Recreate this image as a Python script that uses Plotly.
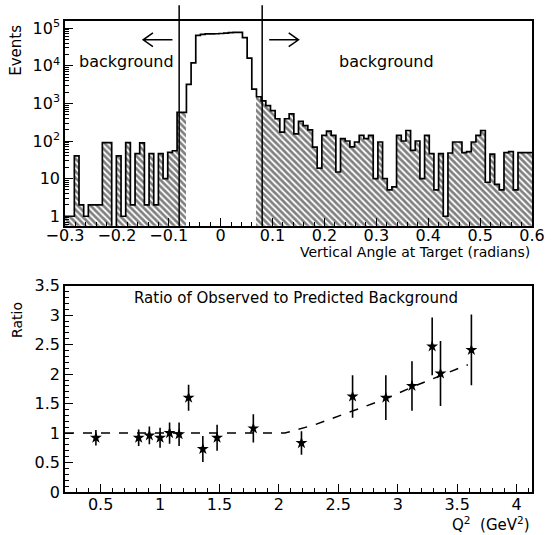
import plotly.graph_objects as go

# ---------------- data: top panel (histogram of vertical angle) ----------------
bin_lo = -0.30
bin_width = 0.009
counts = [
    1, 1, 40, 2, 1, 2, 2, 2, 90, 90,
    0, 40, 1, 90, 2, 46, 89, 2, 46, 2,
    46, 10, 50, 55, 580, 580, 3200, 12000, 64000, 68000,
    70000, 70000, 71000, 72000, 74000, 76000, 77000, 77000, 56000, 16000,
    2400, 1500, 1170, 870, 640, 390, 173, 390, 525, 155,
    335, 257, 198, 69, 19, 141, 183, 141, 15, 115,
    100, 70, 94, 141, 115, 141, 10, 94, 10, 5,
    6, 141, 100, 190, 56, 100, 10, 141, 46, 5,
    46, 1, 48, 94, 94, 49, 52, 94, 141, 190,
    8, 45, 7, 5, 49, 52, 5, 49, 49, 49,
]
bg_cut = 0.07          # |angle| beyond which a bin counts as background (hatched)
cut_lines = [-0.08, 0.08]
x_ticks_top = [-0.3, -0.2, -0.1, 0, 0.1, 0.2, 0.3, 0.4, 0.5, 0.6]
y_ticks_top = [1, 10, 100, 1000, 10000, 100000]
y_ticktext_top = ["1", "10", "10<sup>2</sup>", "10<sup>3</sup>", "10<sup>4</sup>", "10<sup>5</sup>"]

# ---------------- data: bottom panel (ratio vs Q^2) ----------------
q2 = [0.46, 0.82, 0.91, 1.00, 1.08, 1.16, 1.24, 1.36, 1.48, 1.785,
      2.19, 2.62, 2.90, 3.12, 3.29, 3.36, 3.62]
ratio = [0.92, 0.92, 0.96, 0.92, 1.00, 0.98, 1.60, 0.73, 0.92, 1.08,
         0.83, 1.62, 1.60, 1.80, 2.47, 2.01, 2.41]
ratio_err = [0.13, 0.14, 0.15, 0.17, 0.18, 0.20, 0.22, 0.22, 0.22, 0.24,
             0.20, 0.36, 0.38, 0.42, 0.49, 0.55, 0.60]
fit_q2 = [0.2, 2.05, 2.3, 2.62, 2.9, 3.12, 3.36, 3.59]
fit_ratio = [1.0, 1.0, 1.14, 1.37, 1.58, 1.78, 1.98, 2.16]

# ---------------- derived ----------------
n = len(counts)
edges = [bin_lo + i * bin_width for i in range(n + 1)]
centers = [bin_lo + (i + 0.5) * bin_width for i in range(n)]
bg_x = [c for c, v in zip(centers, counts) if abs(c) > bg_cut]
bg_y = [v if v > 0 else None for c, v in zip(centers, counts) if abs(c) > bg_cut]
step_y = [v if v > 0 else 0.2 for v in counts] + [counts[-1] if counts[-1] > 0 else 0.2]

W, H = 557, 535
ML, MR, MT, MB = 65, 14, 16, 43
PW, PH = W - ML - MR, H - MT - MB


def px(X):
    return (X - ML) / PW


def py(Y):
    return (H - MB - Y) / PH


FONT = "DejaVu Sans"
fig = go.Figure()

fig.add_trace(go.Bar(
    x=bg_x, y=bg_y, width=bin_width, xaxis="x", yaxis="y",
    marker=dict(color="white", line=dict(width=0),
                pattern=dict(shape="\\", fgcolor="black", bgcolor="white",
                             size=4.5, solidity=0.6)),
    hoverinfo="skip"))
fig.add_trace(go.Scatter(
    x=edges, y=step_y, mode="lines", line=dict(color="black", width=1.7, shape="hv"),
    xaxis="x", yaxis="y", hoverinfo="skip"))

fig.add_trace(go.Scatter(
    x=fit_q2, y=fit_ratio, mode="lines", line=dict(color="black", width=1.5, dash="dash"),
    xaxis="x2", yaxis="y2"))
fig.add_trace(go.Scatter(
    x=q2, y=ratio, mode="markers", xaxis="x2", yaxis="y2",
    marker=dict(symbol="star", size=9, color="black"),
    error_y=dict(type="data", array=ratio_err, thickness=1.6, width=0, color="black")))

top_dom = [py(223), 1]
bot_dom = [0, py(283.5)]

axis_common = dict(showline=True, mirror=True, linecolor="black", linewidth=1.5,
                   showgrid=False, zeroline=False, ticks="inside", ticklen=8,
                   tickwidth=1.3, tickcolor="black",
                   tickfont=dict(family=FONT, size=16, color="black"))

fig.update_layout(
    width=W, height=H, margin=dict(l=ML, r=MR, t=MT, b=MB),
    paper_bgcolor="white", plot_bgcolor="white", showlegend=False,
    bargap=0,
    xaxis=dict(axis_common, domain=[0, 1], anchor="y", range=[-0.3, 0.6],
               tickmode="array", tickvals=x_ticks_top, ticklabelstandoff=-6,
               minor=dict(ticks="inside", ticklen=4, dtick=0.02, tick0=0, tickcolor="black")),
    yaxis=dict(axis_common, domain=top_dom, anchor="x", type="log", range=[-0.255, 5.19],
               tickmode="array", tickvals=y_ticks_top, ticktext=y_ticktext_top,
               minor=dict(ticks="inside", ticklen=4, tickcolor="black",
                          tickvals=[k * 10 ** d for d in range(-1, 6) for k in range(2, 10)])),
    xaxis2=dict(axis_common, domain=[0, 1], anchor="y2", range=[0.2, 4.13],
                dtick=0.5, tick0=0.5, ticklabelstandoff=-3,
                minor=dict(ticks="inside", ticklen=4, dtick=0.1, tick0=0, tickcolor="black")),
    yaxis2=dict(axis_common, domain=bot_dom, anchor="x2", range=[0, 3.5],
                dtick=0.5, tick0=0,
                minor=dict(ticks="inside", ticklen=4, dtick=0.1, tick0=0, tickcolor="black")),
)

for xc in cut_lines:
    fig.add_shape(type="line", xref="x", yref="paper", x0=xc, x1=xc,
                  y0=top_dom[0], y1=py(0), line=dict(color="black", width=1.5))


def arrow(head, tail, yy):
    d = 10 if tail > head else -10
    return (f"M {px(tail)} {py(yy)} L {px(head)} {py(yy)} "
            f"M {px(head + d)} {py(yy - 7)} L {px(head)} {py(yy)} L {px(head + d)} {py(yy + 7)}")


for head, tail in [(145, 175), (304, 274)]:
    fig.add_shape(type="path", xref="paper", yref="paper", path=arrow(head, tail, 35),
                  line=dict(color="black", width=1.5))

ann = dict(xref="paper", yref="paper", showarrow=False, xanchor="center", yanchor="middle",
           font=dict(family=FONT, color="black"))
fig.add_annotation(ann, x=px(128), y=py(57), text="background", font_size=16)
fig.add_annotation(ann, x=px(394), y=py(57), text="background", font_size=16)
fig.add_annotation(ann, x=px(15), y=py(46), text="Events", textangle=-90, font_size=15)
fig.add_annotation(ann, x=px(16), y=py(318), text="Ratio", textangle=-90, font_size=14)
fig.add_annotation(ann, x=1.0, y=py(249), xanchor="right",
                   text="Vertical Angle at Target (radians)", font_size=14)
fig.add_annotation(ann, x=1.0, y=py(524), xanchor="right",
                   text="Q<sup>2</sup>  (GeV<sup>2</sup>)", font_size=15)
fig.add_annotation(ann, x=px(301), y=py(296),
                   text="Ratio of Observed to Predicted Background", font_size=15)

fig.write_html("out.html")
